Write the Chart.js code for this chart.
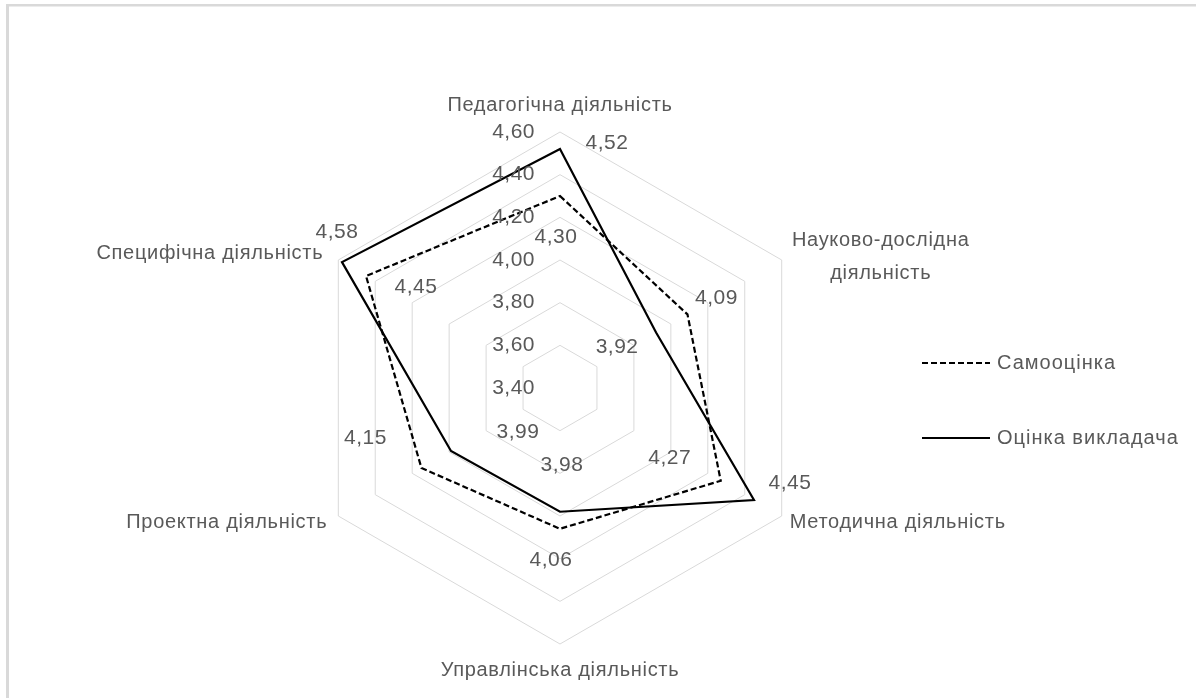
<!DOCTYPE html>
<html>
<head>
<meta charset="utf-8">
<script src="https://cdn.jsdelivr.net/npm/chart.js@4"></script>
<style>
html,body{margin:0;padding:0;background:#fff;}
#wrap{width:1196px;height:698px;position:relative;}
</style>
</head>
<body>
<div id="wrap"><canvas id="c"></canvas></div>
<script>
// ---- data ----
const categories = [
  ['Педагогічна діяльність'],
  ['Науково-дослідна', 'діяльність'],
  ['Методична діяльність'],
  ['Управлінська діяльність'],
  ['Проектна діяльність'],
  ['Специфічна діяльність']
];
const seriesNames = ['Самооцінка', 'Оцінка викладача'];
const selfScores = [4.30, 4.09, 4.27, 4.06, 4.15, 4.45];
const teacherScores = [4.52, 3.92, 4.45, 3.98, 3.99, 4.58];
const axisMin = 3.40;
const axisMax = 4.60;
const axisStep = 0.20;

// ---- layout/style (not data) ----
const TEXT = '#595959';
const FONT = '"Liberation Sans", Arial, sans-serif';
const selfLabelOffsets = [[-4,41],[29,-16],[-51,-23],[-9,31],[-56,-30],[50,11]];
const teacherLabelOffsets = [[47,-6],[-39,15],[36,-17],[2,-47],[67,-19],[-5,-30]];
const pointLabelPlace = [
  {align:'center', dx:0, dy:-27},
  {align:'center', dx:99, dy:-20},
  {align:'left', dx:8, dy:6},
  {align:'center', dx:0, dy:26},
  {align:'right', dx:-11, dy:6},
  {align:'right', dx:-15, dy:-7}
];
const fmt = v => v.toFixed(2).replace('.', ',');

const decor = {
  id: 'decor',
  beforeDraw(chart) {
    const ctx = chart.ctx;
    ctx.save();
    ctx.fillStyle = '#d9d9d9';
    ctx.fillRect(6, 4, 1190, 2.5);
    ctx.fillRect(6, 4, 3, 694);
    ctx.restore();
  },
  afterDraw(chart) {
    const ctx = chart.ctx;
    const r = chart.scales.r;
    ctx.save();
    ctx.textBaseline = 'middle';
    // tick labels
    ctx.font = '21px ' + FONT;
    ctx.letterSpacing = '0.5px';
    ctx.fillStyle = TEXT;
    ctx.textAlign = 'right';
    r.ticks.forEach(t => {
      const d = r.getDistanceFromCenterForValue(t.value);
      ctx.fillText(fmt(t.value), r.xCenter - 25, r.yCenter - d);
    });
    // point labels
    ctx.font = '20px ' + FONT;
    ctx.letterSpacing = '0.7px';
    categories.forEach((lines, i) => {
      const p = r.getPointPosition(i, r.drawingArea);
      const pl = pointLabelPlace[i];
      ctx.textAlign = pl.align;
      lines.forEach((ln, k) => {
        ctx.fillText(ln, p.x + pl.dx, p.y + pl.dy + k * 33);
      });
    });
    // data labels
    ctx.font = '21px ' + FONT;
    ctx.letterSpacing = '0.5px';
    ctx.textAlign = 'center';
    const dl = (vals, offs) => vals.forEach((v, i) => {
      const p = r.getPointPositionForValue(i, v);
      ctx.fillText(fmt(v), p.x + offs[i][0], p.y + offs[i][1]);
    });
    dl(selfScores, selfLabelOffsets);
    dl(teacherScores, teacherLabelOffsets);
    // legend
    ctx.font = '20px ' + FONT;
    ctx.letterSpacing = '1px';
    ctx.textAlign = 'left';
    const legY = [363, 438];
    chart.data.datasets.forEach((ds, i) => {
      ctx.beginPath();
      ctx.strokeStyle = ds.borderColor;
      ctx.lineWidth = ds.borderWidth;
      ctx.setLineDash(ds.borderDash || []);
      ctx.moveTo(922, legY[i]);
      ctx.lineTo(990, legY[i]);
      ctx.stroke();
      ctx.setLineDash([]);
      ctx.fillStyle = TEXT;
      ctx.fillText(ds.label, 997, legY[i]);
    });
    ctx.restore();
  }
};

new Chart(document.getElementById('c'), {
  type: 'radar',
  data: {
    labels: categories,
    datasets: [
      {label: seriesNames[0], data: selfScores, borderColor: '#000', borderWidth: 2.2, borderDash: [6, 3], fill: false, pointRadius: 0, tension: 0},
      {label: seriesNames[1], data: teacherScores, borderColor: '#000', borderWidth: 2.2, fill: false, pointRadius: 0, tension: 0}
    ]
  },
  options: {
    responsive: true,
    maintainAspectRatio: false,
    animation: false,
    layout: {padding: {left: 200, right: 276, top: 132, bottom: 54}},
    plugins: {legend: {display: false}, tooltip: {enabled: false}},
    scales: {
      r: {
        min: axisMin,
        max: axisMax,
        ticks: {display: false, stepSize: axisStep},
        grid: {color: '#d9d9d9', lineWidth: 1, circular: false},
        angleLines: {display: false},
        pointLabels: {display: false}
      }
    }
  },
  plugins: [decor]
});
</script>
</body>
</html>
